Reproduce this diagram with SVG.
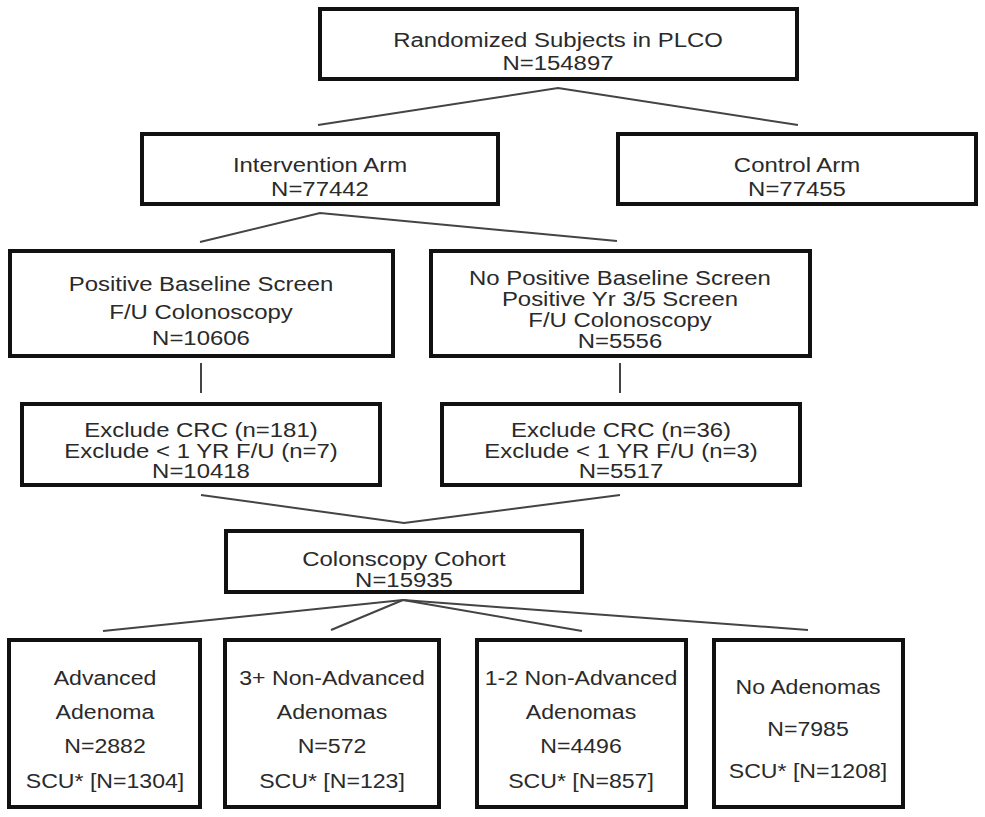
<svg xmlns="http://www.w3.org/2000/svg" width="985" height="817" viewBox="0 0 985 817">
<style>
.box{fill:#fff;stroke:#111;stroke-width:4}
.t{font-family:"Liberation Sans",Arial,sans-serif;font-size:21px;fill:#2a2a2a;text-anchor:middle}
.c{fill:none;stroke:#444;stroke-width:2}
</style>
<rect width="985" height="817" fill="#fff"/>
<g id="connectors">
<polyline class="c" points="318,125 558,88 798,125"/>
<polyline class="c" points="200,242 320,213 617,241"/>
<line class="c" x1="201" y1="363" x2="201" y2="393"/>
<line class="c" x1="620" y1="363" x2="620" y2="393"/>
<polyline class="c" points="201,495 404,523 620,495"/>
<line class="c" x1="403" y1="600" x2="103" y2="631"/>
<line class="c" x1="403" y1="600" x2="331" y2="630"/>
<line class="c" x1="403" y1="600" x2="582" y2="631"/>
<line class="c" x1="403" y1="600" x2="808" y2="630"/>
</g>
<g id="randomized">
<rect class="box" x="320" y="9" width="477" height="70"/>
<g transform="translate(558,0) scale(1.14,1)">
<text class="t" x="0" y="47">Randomized Subjects in PLCO</text>
<text class="t" x="0" y="70">N=154897</text>
</g>
</g>
<g id="intervention">
<rect class="box" x="142" y="134" width="356" height="70"/>
<g transform="translate(320,0) scale(1.14,1)">
<text class="t" x="0" y="172">Intervention Arm</text>
<text class="t" x="0" y="196">N=77442</text>
</g>
</g>
<g id="control">
<rect class="box" x="618" y="134" width="358" height="70"/>
<g transform="translate(797,0) scale(1.14,1)">
<text class="t" x="0" y="172">Control Arm</text>
<text class="t" x="0" y="196">N=77455</text>
</g>
</g>
<g id="positive">
<rect class="box" x="10" y="251" width="383" height="105"/>
<g transform="translate(201,0) scale(1.14,1)">
<text class="t" x="0" y="291">Positive Baseline Screen</text>
<text class="t" x="0" y="319">F/U Colonoscopy</text>
<text class="t" x="0" y="345">N=10606</text>
</g>
</g>
<g id="nopositive">
<rect class="box" x="431" y="251" width="379" height="105"/>
<g transform="translate(620,0) scale(1.14,1)">
<text class="t" x="0" y="285">No Positive Baseline Screen</text>
<text class="t" x="0" y="306">Positive Yr 3/5 Screen</text>
<text class="t" x="0" y="327">F/U Colonoscopy</text>
<text class="t" x="0" y="348">N=5556</text>
</g>
</g>
<g id="excludeL">
<rect class="box" x="22" y="404" width="358" height="81"/>
<g transform="translate(201,0) scale(1.14,1)">
<text class="t" x="0" y="437">Exclude CRC (n=181)</text>
<text class="t" x="0" y="458">Exclude &lt; 1 YR F/U (n=7)</text>
<text class="t" x="0" y="478">N=10418</text>
</g>
</g>
<g id="excludeR">
<rect class="box" x="442" y="404" width="358" height="81"/>
<g transform="translate(621,0) scale(1.14,1)">
<text class="t" x="0" y="437">Exclude CRC (n=36)</text>
<text class="t" x="0" y="458">Exclude &lt; 1 YR F/U (n=3)</text>
<text class="t" x="0" y="478">N=5517</text>
</g>
</g>
<g id="cohort">
<rect class="box" x="226" y="531" width="356" height="61"/>
<g transform="translate(404,0) scale(1.14,1)">
<text class="t" x="0" y="566">Colonscopy Cohort</text>
<text class="t" x="0" y="587">N=15935</text>
</g>
</g>
<g id="advanced">
<rect class="box" x="9" y="640" width="191" height="167"/>
<g transform="translate(105,0) scale(1.1,1)">
<text class="t" x="0" y="685">Advanced</text>
<text class="t" x="0" y="719">Adenoma</text>
<text class="t" x="0" y="753">N=2882</text>
<text class="t" x="0" y="788">SCU* [N=1304]</text>
</g>
</g>
<g id="nonadv3">
<rect class="box" x="225" y="640" width="214" height="167"/>
<g transform="translate(332,0) scale(1.1,1)">
<text class="t" x="0" y="685">3+ Non-Advanced</text>
<text class="t" x="0" y="719">Adenomas</text>
<text class="t" x="0" y="753">N=572</text>
<text class="t" x="0" y="788">SCU* [N=123]</text>
</g>
</g>
<g id="nonadv12">
<rect class="box" x="477" y="640" width="209" height="167"/>
<g transform="translate(581,0) scale(1.1,1)">
<text class="t" x="0" y="685">1-2 Non-Advanced</text>
<text class="t" x="0" y="719">Adenomas</text>
<text class="t" x="0" y="753">N=4496</text>
<text class="t" x="0" y="788">SCU* [N=857]</text>
</g>
</g>
<g id="noadenomas">
<rect class="box" x="714" y="640" width="189" height="167"/>
<g transform="translate(808,0) scale(1.1,1)">
<text class="t" x="0" y="694">No Adenomas</text>
<text class="t" x="0" y="736">N=7985</text>
<text class="t" x="0" y="778">SCU* [N=1208]</text>
</g>
</g>
</svg>
